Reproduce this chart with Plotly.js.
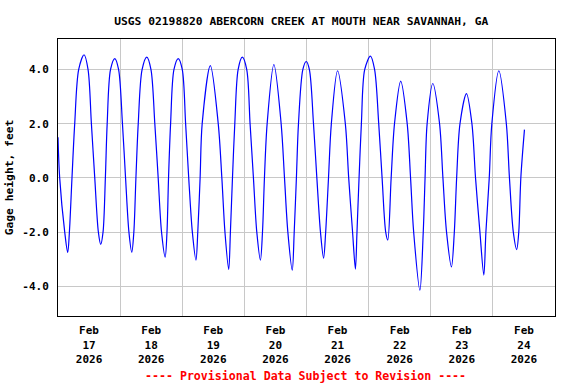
<!DOCTYPE html>
<html>
<head>
<meta charset="utf-8">
<script src="https://cdn.plot.ly/plotly-3.0.1.min.js"></script>
<style>html,body{margin:0;padding:0;background:#fff;}#chart{width:576px;height:384px;}</style>
</head>
<body>
<div id="chart"></div>
<script>
// Hours after 2026-02-17 00:00
const hours = [0, 0.65, 2.6, 3.75, 4.4, 5.4, 6.46, 8.0, 10.07, 11.6, 12.9, 14.2, 15.6, 16.5,
  17.4, 18.3, 19.0, 20.3, 21.95, 23.4, 24.9, 26.1, 27.4, 28.5,
  29.3, 30.1, 31.0, 32.5, 34.3, 35.9, 37.4, 38.7, 40.0, 41.4,
  42.1, 42.7, 43.5, 44.8, 46.45, 48.0, 49.3, 50.5, 51.9, 53.3,
  54.0, 54.9, 55.7, 58.85, 61.9, 63.3, 64.5, 65.95,
  66.6, 67.4, 68.3, 69.6, 71.2, 72.9, 74.2, 75.5, 76.8, 78.2,
  79.0, 79.75, 80.8, 83.4, 86.2, 87.5, 88.8, 90.5,
  91.25, 92.1, 92.9, 94.6, 95.9, 97.1, 98.7, 100.0, 101.4, 102.6,
  103.4, 104.5, 105.6, 108.0, 111.0, 112.3, 113.8, 114.9,
  115.5, 116.3, 117.2, 118.5, 120.7, 122.3, 123.9, 125.2, 126.6, 127.4,
  128.7, 130.0, 132.4, 134.9, 136.2, 137.4, 139.8,
  141.1, 141.8, 142.6, 144.8, 147.4, 148.7, 150.1, 152.0,
  153.1, 154.0, 155.3, 157.8, 159.9, 161.3, 163.0, 164.5,
  165.3, 166.6, 167.6, 170.3, 173.2, 174.4, 175.9, 177.2,
  178.0, 178.8, 180.2];
// Gage height, feet
const gage = [1.5, 0, -2, -2.75, -2, 0, 2, 4, 4.54, 4, 2, 0, -2, -2.45,
  -2, 0, 2, 4, 4.40, 4, 2, 0, -2, -2.74,
  -2, 0, 2, 4, 4.45, 4, 2, 0, -2, -2.92,
  -2, 0, 2, 4, 4.40, 4, 2, 0, -2, -3.03,
  -2, 0, 2, 4.14, 2, 0, -2, -3.37,
  -2, 0, 2, 4, 4.45, 4, 2, 0, -2, -3.03,
  -2, 0, 2, 4.18, 2, 0, -2, -3.40,
  -2, 0, 2, 4, 4.29, 4, 2, 0, -2, -2.96,
  -2, 0, 2, 3.95, 2, 0, -2, -3.36,
  -2, 0, 2, 4, 4.49, 4, 2, 0, -2, -2.29,
  0, 2, 3.57, 2, 0, -2, -4.14,
  -2, 0, 2, 3.48, 2, 0, -2, -3.28,
  -2, 0, 2, 3.11, 2, 0, -2, -3.58,
  -2, 0, 2, 3.95, 2, 0, -2, -2.64,
  -2, 0, 1.78];

const startDate = Date.UTC(2026, 1, 17);
const dayTicks = ['2026-02-17 12:00','2026-02-18 12:00','2026-02-19 12:00','2026-02-20 12:00',
  '2026-02-21 12:00','2026-02-22 12:00','2026-02-23 12:00','2026-02-24 12:00'];
const dayLabels = ['Feb<br>17<br>2026','Feb<br>18<br>2026','Feb<br>19<br>2026','Feb<br>20<br>2026',
  'Feb<br>21<br>2026','Feb<br>22<br>2026','Feb<br>23<br>2026','Feb<br>24<br>2026'];
const yTicks = [-4, -2, 0, 2, 4];
const yLabels = ['-4.0', '-2.0', '0.0', '2.0', '4.0'];

const toStr = h => new Date(startDate + h * 3600000).toISOString().replace('T', ' ').slice(0, 19);
const xs = hours.map(toStr);

const font = {family: 'DejaVu Sans Mono', size: 11, color: '#000', weight: 'bold'};

const trace = {
  x: xs, y: gage, type: 'scatter', mode: 'lines',
  line: {color: '#0000ff', width: 1.2, shape: 'spline', smoothing: 0.9},
  hoverinfo: 'skip'
};

const layout = {
  width: 576, height: 384,
  margin: {l: 58, r: 21, t: 39, b: 68},
  paper_bgcolor: '#fff', plot_bgcolor: '#fff',
  showlegend: false,
  font: font,
  title: {text: 'USGS 02198820 ABERCORN CREEK AT MOUTH NEAR SAVANNAH, GA',
    font: {family: 'DejaVu Sans Mono', size: 11.3, color: '#000', weight: 'bold'},
    xref: 'container', x: 0.523, xanchor: 'center', yref: 'container', y: 1 - 21/384, yanchor: 'middle'},
  xaxis: {
    type: 'date', range: ['2026-02-17 00:00', '2026-02-25 00:00'],
    tickmode: 'array', tickvals: dayTicks, ticktext: dayLabels,
    showgrid: false, ticks: '', tickfont: {family: 'DejaVu Sans Mono', size: 11, color: '#000', weight: 'bold'},
    minor: {tick0: '2026-02-17', dtick: 86400000, showgrid: true, gridcolor: '#c8c8c8', gridwidth: 1, ticks: ''},
    showline: true, linecolor: '#000', linewidth: 1, mirror: true, zeroline: false,
    ticklabelstandoff: 4
  },
  yaxis: {
    range: [-5.09, 5.12], tickmode: 'array', tickvals: yTicks, ticktext: yLabels,
    showgrid: true, gridcolor: '#c8c8c8', gridwidth: 1, ticks: '',
    tickfont: {family: 'DejaVu Sans Mono', size: 11, color: '#000', weight: 'bold'},
    showline: true, linecolor: '#000', linewidth: 1, mirror: true, zeroline: false,
    ticklabelstandoff: 6,
    title: {text: 'Gage height, feet', font: {family: 'DejaVu Sans Mono', size: 11.3, color: '#000', weight: 'bold'}, standoff: 6}
  },
  annotations: [{
    text: '---- Provisional Data Subject to Revision ----',
    xref: 'paper', yref: 'paper', x: 0.497, y: -0.2166, xanchor: 'center', yanchor: 'middle',
    showarrow: false, font: {family: 'DejaVu Sans Mono', size: 11.6, color: '#ff0000', weight: 'bold'}
  }]
};

Plotly.newPlot('chart', [trace], layout, {staticPlot: true, displayModeBar: false});
</script>
</body>
</html>
